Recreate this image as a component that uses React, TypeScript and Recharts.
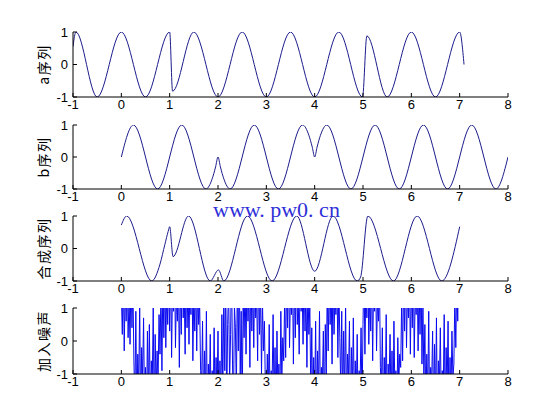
import { Line, LineChart, XAxis, YAxis } from "recharts";

// tick labels
const xTicks = [-1, 0, 1, 2, 3, 4, 5, 6, 7, 8];
const yTicks = [-1, 0, 1];

// a序列 (key points: peaks, troughs, breaks)
const aX = [-1, -0.94, -0.5, 0, 0.5, 1.0, 1.06, 1.5, 2.0, 2.5, 3.0, 3.5, 4.0, 4.5, 4.99, 5.08, 5.5, 6.0, 6.5, 7.0, 7.09];
const aY = [0.55, 1, -1, 1, -1, 1, -0.82, 1, -1, 1, -1, 1, -1, 1, -1, 0.88, -1, 1, -1, 1, 0];

// b序列
const bX = [0, 0.25, 0.75, 1.25, 1.75, 1.88, 1.95, 2.0, 2.05, 2.12, 2.25, 2.75, 3.25, 3.75, 3.88, 3.95, 4.0, 4.05, 4.12, 4.25, 4.75, 5.25, 5.75, 6.25, 6.75, 7.25, 7.75, 8.0];
const bY = [0, 1, -1, 1, -1, -0.68, -0.31, 0, -0.31, -0.68, -1, 1, -1, 1, 0.68, 0.31, 0, 0.31, 0.68, 1, -1, 1, -1, 1, -1, 1, -1, 0];

// 合成序列
const cX = [0, 0.11, 0.63, 0.8, 0.9, 0.97, 1.0, 1.07, 1.39, 1.84, 2.01, 2.12, 2.61, 3.12, 3.63, 4.0, 4.38, 4.88, 4.95, 5.1, 5.63, 6.12, 6.63, 7.0];
const cY = [0.72, 1, -1, -0.48, 0.12, 0.53, 0.67, -0.25, 1, -1, -0.66, -1, 1, -1, 1, -0.7, 1, -1, -0.88, 1, -1, 1, -1, 0.67];

// 加入噪声, one value every 0.02 from 0 to 7 (values past ±1 are clipped by the axes)
const noiseStep = 0.02;
const noise0 = [
  1.5, 0.2, 2.2, -0.3, 1.8, 0.6, 2.5, 0.1, 1.3, -0.1, 2.0, 0.4, 1.7, -0.6,
  -1.9, 0.9, -2.3, -0.4, -1.5, 1.2, -2.6, -0.2, -1.1, 0.7, -2.0, -0.8, -2.4, 0.3, -1.7, 0.5, -2.2, -0.6, -1.3, 1.0, -2.5, 0.2, -1.6, -0.3,
  -1.2, 0.8, -0.4, 1.5, -0.9, 1.9, 0.1, 2.3, -0.2, 1.6, 0.5, 2.1,
];
const noise1 = [
  0.3, 2.4, -0.5, 1.8, 0.9, 2.6, -0.2, 1.4, 0.6, 2.2, -0.8, 1.9, 0.2, 2.5, 0.7, 1.6, -0.4, 2.3, 0.4, 1.7, -0.1, 2.0, 0.8, 2.6, -0.6, 1.5, 0.3, 2.1, -0.3, 1.8, 0.5, 1.2, -0.9,
  -1.4, 0.6, -2.1, -0.3, -1.8, 0.9, -2.4, -0.7, -1.5, 0.2, -2.6, -0.9, -1.9, 0.4, -2.2, -0.5, -1.6,
];
const noise2 = [
  0.3, -2.3, -0.6, -1.8, 0.8,
  -1.5, 1.4, -0.9, 2.0, -2.1, 0.5, 1.7, -1.3, 0.2, 2.3, -0.7, -2.0, 1.1, 0.4, -1.6, 1.9, -0.3, 2.4, -1.1, 0.9, -2.2, 1.3, 0.1,
  1.8, -0.4, 2.2, 0.6, 1.5, -0.8, 2.5, 0.3, 1.9, -0.2, 2.1, 0.7, 1.4, -0.6, 2.4, 0.2, 1.7, -1.0, 1.2, -0.3, 0.6, -1.4,
];
const noise3 = [
  -2.2, -0.4, -1.7, 0.5, -2.5, -0.9, -1.3, 0.8, -2.0, -0.2, -2.4, 0.3, -1.6, -0.7, -2.1, 0.9, -1.2, 0.1, -0.6,
  1.4, -0.5, 2.0, 0.4, 2.5, -0.2, 1.6, 0.8, 2.3, -0.7, 1.9, 0.1, 2.6, 0.5, 1.3, -0.4, 2.2, 0.9, 1.7, -0.1, 2.4, 0.3, 1.5, -0.8, 1.8, 0.2, 1.1,
  -1.6, 0.4, -2.2, -0.5,
];
const noise4 = [
  -1.9, 0.6, -2.4, -0.3, -1.5, 0.9, -2.1, -0.8, -1.2, 0.3, -2.5, 0.5, -1.0,
  1.6, -0.3, 2.2, 0.5, 1.9, -0.7, 2.5, 0.2, 1.4, 0.8, 2.1, -0.5, 1.7, 0.1,
  -1.4, 0.9, -2.0, 0.3, -1.7, 1.2, -2.3, -0.4, -1.1, 0.6, -2.6, -0.2, -1.5, 0.7, -2.1, -0.6, -1.8, 0.2, -2.4, -0.9, -1.3, 0.4, -2.0,
];
const noise5 = [
  0.5, 2.3, -0.4, 1.8, 0.7, 2.6, -0.1, 1.5, 0.3, 2.1, -0.6, 1.9, 0.9, 2.4, -0.3, 1.3, 0.6, 2.0, -0.8,
  -1.5, 0.4, -2.2, -0.5, -1.8, 0.8, -2.5, -0.7, -1.2, 0.2, -2.0, -0.3, -2.4, 0.6, -1.6, -0.9, -2.1, 0.1, -1.3, -0.4, -0.8,
  1.2, -0.6, 1.9, 0.3, 2.4, -0.2, 1.6, 0.7, 2.2, -0.4,
];
const noise6 = [
  1.8, 0.4, 2.5, -0.5, 1.4, 0.8, 2.1, -0.3, 1.7, 0.2, 2.3, -0.7, 1.1,
  -1.2, 0.5, -2.0, -0.4, -1.7, 0.9, -2.4, -0.8, -1.4, 0.3, -2.2, -0.1, -1.9, 0.7, -2.6, -0.6, -1.3, 0.4, -2.1, -0.9, -1.6, 0.8, -2.3, -0.2, -1.5, 0.6, -2.5, -0.5, -1.8, 0.3, -1.1, -0.7,
  1.3, -0.2, 1.9, 0.6, 2.4,
];
const noiseEnd = [2.6];

type Pt = { x: number; y: number };
const zip = (xs: number[], ys: number[]): Pt[] => xs.map((x, i) => ({ x, y: ys[i] }));

const noiseY = [...noise0, ...noise1, ...noise2, ...noise3, ...noise4, ...noise5, ...noise6, ...noiseEnd];
const noiseData: Pt[] = noiseY.map((y, i) => ({ x: +(i * noiseStep).toFixed(2), y }));

const PLOT_LEFT = 73;
const PLOT_W = 435;
const M_TOP = 10;
const AXIS_H = 30;

type PanelProps = {
  top: number;
  height: number;
  data: Pt[];
  label: string;
  color: string;
  curve: "monotone" | "linear";
};

function Panel({ top, height, data, label, color, curve }: PanelProps) {
  const tickStyle = { fill: "#000", fontSize: 13 };
  return (
    <div style={{ position: "absolute", left: 0, top: top - M_TOP }}>
      <LineChart
        width={560}
        height={M_TOP + height + AXIS_H}
        data={data}
        margin={{ top: M_TOP, right: 560 - PLOT_LEFT - PLOT_W, bottom: 0, left: 15 }}
      >
        <XAxis
          dataKey="x"
          type="number"
          domain={[-1, 8]}
          ticks={xTicks}
          interval={0}
          allowDataOverflow
          height={AXIS_H}
          tickSize={-4}
          tickMargin={7}
          stroke="#000"
          tick={tickStyle}
        />
        <XAxis
          xAxisId="top"
          orientation="top"
          type="number"
          domain={[-1, 8]}
          ticks={xTicks}
          interval={0}
          allowDataOverflow
          height={0}
          tickSize={-4}
          tick={false}
          stroke="#000"
        />
        <YAxis
          type="number"
          domain={[-1, 1]}
          ticks={yTicks}
          interval={0}
          allowDataOverflow
          width={PLOT_LEFT - 15}
          tickSize={-4}
          tickMargin={9}
          stroke="#000"
          tick={tickStyle}
          label={{
            value: label,
            angle: -90,
            position: "center",
            fill: "#000",
            fontSize: 14,
            fontFamily: "'Noto Sans CJK SC', sans-serif",
            letterSpacing: 1.5,
          }}
        />
        <YAxis
          yAxisId="right"
          orientation="right"
          type="number"
          domain={[-1, 1]}
          ticks={yTicks}
          interval={0}
          allowDataOverflow
          width={0}
          tickSize={-4}
          tick={false}
          stroke="#000"
        />
        <Line
          dataKey="y"
          type={curve}
          stroke={color}
          strokeWidth={1}
          dot={false}
          isAnimationActive={false}
        />
      </LineChart>
    </div>
  );
}

export default function App() {
  return (
    <div
      style={{
        position: "absolute",
        left: 0,
        top: 0,
        width: 560,
        height: 420,
        background: "#fff",
        fontFamily: "'Liberation Sans', Arial, sans-serif",
      }}
    >
      <Panel top={32} height={65} data={zip(aX, aY)} label="a序列" color="#1c1c8c" curve="monotone" />
      <Panel top={125} height={64} data={zip(bX, bY)} label="b序列" color="#1c1c8c" curve="monotone" />
      <Panel top={216} height={65} data={zip(cX, cY)} label="合成序列" color="#1c1c8c" curve="monotone" />
      <Panel top={308} height={66} data={noiseData} label="加入噪声" color="#0a0af0" curve="linear" />
      <div
        style={{
          position: "absolute",
          left: 213,
          top: 199,
          fontFamily: "'Liberation Serif', 'Times New Roman', serif",
          fontSize: 22,
          lineHeight: "22px",
          color: "#2f2fd8",
          whiteSpace: "pre",
        }}
      >
        www. pw0. cn
      </div>
    </div>
  );
}
